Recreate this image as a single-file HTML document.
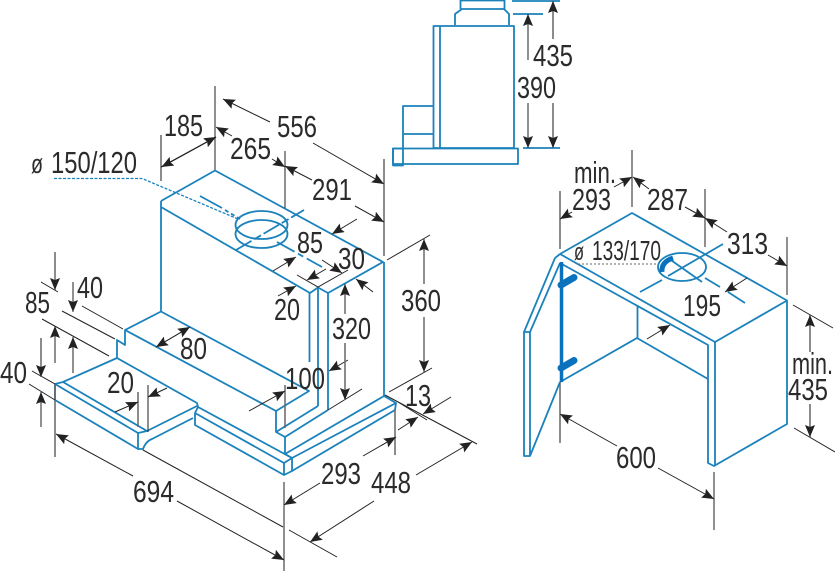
<!DOCTYPE html>
<html><head><meta charset="utf-8"><style>
html,body{margin:0;padding:0;background:#fff}
svg{display:block}
text{font-family:"Liberation Sans",sans-serif;font-size:30.500px;fill:#2b2b2b}
.b{fill:none;stroke:#1b82bb;stroke-width:1.800;stroke-linejoin:round}
.k{fill:none;stroke:#222;stroke-width:1}
.g{fill:none;stroke:#666;stroke-width:1.500}
</style></head><body>
<svg width="835" height="571" viewBox="0 0 835 571" xmlns="http://www.w3.org/2000/svg">
<defs><marker id="a" markerUnits="userSpaceOnUse" markerWidth="13" markerHeight="11" refX="12" refY="5" orient="auto"><path d="M0,0L12,5L0,10L2,5Z" fill="#222"/></marker></defs>

<!-- main hood -->
<g class="b">
<path d="M161,201L215,170.500L383,262L328,293L318,287.500L310,293L161,207V201M161,207V311.500"/>
<path d="M309.500,293V362M318,288V406M328,293V410M384,262V396"/>
<path d="M161,311.500L309,391L276,411V432L285,437V454L384,396L396,403L395,410L292,471V458L285,454"/>
<path d="M161,311.500L125,330V345L117,340V358L63,382L55,384V400L138,449H143Q146,441 152,439L193,418"/>
<path d="M125,330L276,411M117,358L197,403L198,407L195,413V425L284,475L292,471M198,407L292,458L396,403M195,413L284,463V475M284,463L292,458"/>
<path d="M55,384L138,433V449M63,382L147,431L197,406M138,433L147,431"/>
<path d="M285,437L328,410M276,432L318,406"/>
<ellipse cx="261.500" cy="225" rx="26" ry="14"/><ellipse cx="261.500" cy="234" rx="26" ry="14"/>
<path d="M236,250L304,210" stroke-dasharray="18 3 8 3"/>
<path d="M277,242L322,267" stroke-dasharray="20 4 6 4"/>
<path d="M200,196L222,208" /><path d="M225,210L240,219" stroke-dasharray="4 3"/>
</g>
<path d="M54,178.500H142L238,219" fill="none" stroke="#1b82bb" stroke-width="1.300" stroke-dasharray="3 1.500"/>

<!-- side view -->
<g class="b">
<rect x="433.500" y="26" width="80.500" height="122"/><path d="M440,26V148"/>
<rect x="393" y="148.500" width="125" height="15.500"/><rect x="393" y="148.500" width="10" height="17"/>
<path d="M403,148V106H433M403,134H433"/>
<path d="M455,25V14L462,9H504L509,14V25M460.500,9V0M504.500,9V0M460,0.500H504M512,1H560M513,14H543M523,148H560"/>
</g>

<!-- right cabinet -->
<g class="b">
<path d="M560,254L632,213L787,300.500L715,342L560,254M560,263L708,345V463L714,466L787,424V301M715,342V466M637.500,305V338M560,382L637,338L708,379"/>
<path d="M555,258L524,332H530L560,263M555,258L560,254M524,332V456H530V332M530,456L560,382"/>
<ellipse cx="682" cy="267" rx="24" ry="14"/>
<path d="M640,292L662,280M668,276L723,244M705,278L720,287M728,292L745,303M668,258L702,282"/>
</g>
<path d="M662,272Q661,262 673,258" fill="none" stroke="#0a72bd" stroke-width="5"/>
<path d="M578,264H658" fill="none" stroke="#666" stroke-width="1" stroke-dasharray="2 2"/>
<path d="M561.500,262V382" fill="none" stroke="#0a72bd" stroke-width="3.500"/>
<path d="M561,285L574,277.500M561,368L574,360.500" fill="none" stroke="#0a72bd" stroke-width="7" stroke-linecap="round"/>

<!-- extension lines -->
<g class="g">
<path d="M161,135V181M384,159V256M55,384V457M138,392V427M285,385V428M395,410V455M560,191V249M560,382V443"/>
</g>
<g class="k">
<path d="M215,86V170M285,151V208M148,385V432M284,482V571M632,150V207M705,189V247M787,237V295M714,472V530"/>
<path d="M387,260L430,235M389,392L432,368M328,410L362,389M385,395L477,444M398,402L427,420M289,530L337,557M283,527L143,450"/>
<path d="M297,275L318,287L348,270M41,282L58,292M82,306L123,329M62,311L115,339M42,319L109,356M32,371L55,384M29,384L55,400M793,305L833,328M794,428L835,452"/>
</g>

<!-- arrows -->
<g class="k" marker-end="url(#a)">
<path d="M216,137L161.500,167"/><path d="M161,167L216,137"/>
<path d="M270,122L223,99"/><path d="M313,143L384,184"/>
<path d="M232,136L216,127"/><path d="M272,159L285,167"/>
<path d="M312,180L285,166"/><path d="M355,206L384,222"/>
<path d="M357,219L332,234"/><path d="M273,271L296,257"/>
<path d="M326,269L307,280"/><path d="M322,260L342,273"/>
<path d="M373,292L356,279"/><path d="M278,296L296,286"/>
<path d="M424,284V239"/><path d="M424,317V372"/>
<path d="M345,314V284"/>
<path d="M348,360L329,371"/><path d="M249,411L285,391"/>
<path d="M398,430L418,417"/><path d="M451,397L423,414"/>
<path d="M320,483L284,505"/><path d="M363,456L396,437"/>
<path d="M374,501L310,542"/><path d="M416,475L472,442"/>
<path d="M133,476L56,434"/><path d="M177,501L284,560"/>
<path d="M190,327L156,347"/><path d="M156,347L190,327"/>
<path d="M115,412L138,402"/><path d="M167,388L148,397"/>
<path d="M73,282V312"/><path d="M55,363V326"/><path d="M73,373V337"/><path d="M41,427V392"/>
<path d="M528,60V14"/><path d="M528,103V148"/>
<path d="M572,212L560,219"/><path d="M614,187L632,177"/>
<path d="M649,189L633,177"/><path d="M685,207L705,218"/>
<path d="M727,232L705,218"/><path d="M768,255L787,266"/>
<path d="M747,278L725,292"/><path d="M647,339L670,325"/>
<path d="M617,446L560,414"/><path d="M658,468L714,499"/>
</g>
<g class="g" marker-end="url(#a)">
<path d="M55,252V290"/><path d="M41,338V377"/><path d="M345,343V400"/>
<path d="M553,39V1"/><path d="M553,103V148"/>
<path d="M810,352V315"/><path d="M810,404V437"/>
</g>

<!-- labels -->
<text x="164" y="136" textLength="39" lengthAdjust="spacingAndGlyphs">185</text>
<text x="31" y="173" style="font-size:27px" textLength="12" lengthAdjust="spacingAndGlyphs">ø</text>
<text x="51" y="173" textLength="86" lengthAdjust="spacingAndGlyphs">150/120</text>
<text x="77" y="298" textLength="26" lengthAdjust="spacingAndGlyphs">40</text>
<text x="25" y="313" textLength="25" lengthAdjust="spacingAndGlyphs">85</text>
<text x="277" y="137" textLength="40" lengthAdjust="spacingAndGlyphs">556</text>
<text x="230" y="159" textLength="41" lengthAdjust="spacingAndGlyphs">265</text>
<text x="312" y="200" textLength="40" lengthAdjust="spacingAndGlyphs">291</text>
<text x="297" y="253" textLength="26" lengthAdjust="spacingAndGlyphs">85</text>
<text x="338" y="269" textLength="27" lengthAdjust="spacingAndGlyphs">30</text>
<text x="274" y="320" textLength="26" lengthAdjust="spacingAndGlyphs">20</text>
<text x="401" y="311" textLength="40" lengthAdjust="spacingAndGlyphs">360</text>
<text x="332" y="339" textLength="39" lengthAdjust="spacingAndGlyphs">320</text>
<text x="285" y="389" textLength="40" lengthAdjust="spacingAndGlyphs">100</text>
<text x="405" y="406" textLength="26" lengthAdjust="spacingAndGlyphs">13</text>
<text x="321" y="484" textLength="40" lengthAdjust="spacingAndGlyphs">293</text>
<text x="371" y="493" textLength="40" lengthAdjust="spacingAndGlyphs">448</text>
<text x="180" y="359" textLength="27" lengthAdjust="spacingAndGlyphs">80</text>
<text x="107" y="393" textLength="27" lengthAdjust="spacingAndGlyphs">20</text>
<text x="0" y="383" textLength="27" lengthAdjust="spacingAndGlyphs">40</text>
<text x="133" y="502" textLength="41" lengthAdjust="spacingAndGlyphs">694</text>
<text x="533" y="66" textLength="40" lengthAdjust="spacingAndGlyphs">435</text>
<text x="517" y="98" textLength="39" lengthAdjust="spacingAndGlyphs">390</text>
<text x="574" y="183" textLength="42" lengthAdjust="spacingAndGlyphs">min.</text>
<text x="572" y="210" textLength="39" lengthAdjust="spacingAndGlyphs">293</text>
<text x="647" y="210" textLength="41" lengthAdjust="spacingAndGlyphs">287</text>
<text x="727" y="254" textLength="41" lengthAdjust="spacingAndGlyphs">313</text>
<text x="574" y="260" style="font-size:24px" textLength="10" lengthAdjust="spacingAndGlyphs">ø</text>
<text x="592" y="260" style="font-size:28px" textLength="69" lengthAdjust="spacingAndGlyphs">133/170</text>
<text x="683" y="316" textLength="38" lengthAdjust="spacingAndGlyphs">195</text>
<text x="792" y="374" textLength="41" lengthAdjust="spacingAndGlyphs">min.</text>
<text x="788" y="400" textLength="40" lengthAdjust="spacingAndGlyphs">435</text>
<text x="616" y="468" textLength="40" lengthAdjust="spacingAndGlyphs">600</text>
</svg>
</body></html>
